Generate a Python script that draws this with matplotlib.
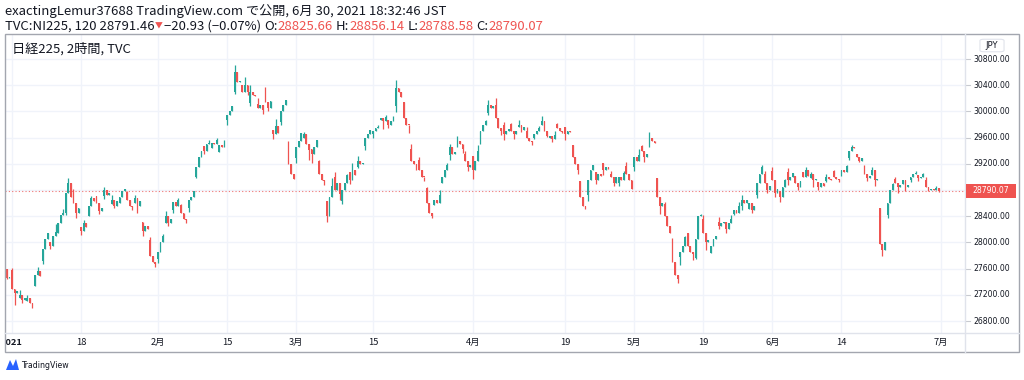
import numpy as np
import matplotlib
matplotlib.use("Agg")
import matplotlib.pyplot as plt
from matplotlib.patches import Rectangle, FancyBboxPatch, Polygon
from matplotlib.lines import Line2D
from matplotlib.transforms import blended_transform_factory, Bbox, TransformedBbox

# ---------------- data (2-hour bars, 3 per trading day) ----------------
dates = (["2020-12-30"] +
         ["2021-01-%02d" % d for d in [4, 5, 6, 7, 8, 12, 13, 14, 15, 18, 19, 20, 21, 22, 25, 26, 27, 28, 29]] +
         ["2021-02-%02d" % d for d in [1, 2, 3, 4, 5, 8, 9, 10, 12, 15, 16, 17, 18, 19, 22, 24, 25, 26]] +
         ["2021-03-%02d" % d for d in [1, 2, 3, 4, 5, 8, 9, 10, 11, 12, 15, 16, 17, 18, 19, 22, 23, 24, 25, 26, 29, 30, 31]] +
         ["2021-04-%02d" % d for d in [1, 2, 5, 6, 7, 8, 9, 12, 13, 14, 15, 16, 19, 20, 21, 22, 23, 26, 27, 28, 30]] +
         ["2021-05-%02d" % d for d in [6, 7, 10, 11, 12, 13, 14, 17, 18, 19, 20, 21, 24, 25, 26, 27, 28, 31]] +
         ["2021-06-%02d" % d for d in [1, 2, 3, 4, 7, 8, 9, 10, 11, 14, 15, 16, 17, 18, 21, 22, 23, 24, 25, 28, 29, 30]])

day_open = [27568,
    27575, 27151, 27102, 27340, 27720, 28004, 28140, 28442, 28777, 28238, 28405, 28711, 28710, 28589, 28601, 28768, 28609, 28306, 28038,
    27748, 28302, 28502, 28564, 28526, 29000, 29479, 29440, 29385, 29863, 30295, 30396, 30127, 30115, 30249, 29714, 29833, 29519,
    29290, 29599, 29433, 29239, 28636, 28998, 28627, 29080, 29156, 29466, 29652, 29868, 29876, 30083, 30144, 29427, 29262, 28838, 28578, 28907, 29327, 29463, 29356,
    29319, 29523, 29969, 30101, 29785, 29809, 29762, 29707, 29589, 29800, 29592, 29812, 29755, 29483, 28936, 28730, 29080, 29208, 29038, 28901, 29165,
    29146, 29472, 29483, 28976, 28588, 27949, 27772, 28142, 27762, 28354, 27844, 28319, 28307, 28428, 28552, 28508, 28720, 29050,
    29087, 28780, 29079, 29015, 29082, 28987, 28918, 28938, 29090, 29043, 29294, 29355, 29151, 29035, 28529, 28421, 28971, 28891, 28949, 29032, 28957, 28818]

bar1_close = [27600,
    27290, 27200, 27150, 27500, 27900, 27950, 28300, 28750, 28600, 28180, 28550, 28600, 28800, 28650, 28700, 28650, 28680, 28180, 27800,
    27850, 28400, 28620, 28450, 28650, 29150, 29400, 29520, 29480, 29950, 30600, 30300, 30300, 30050, 30150, 29650, 30000, 29200,
    29450, 29650, 29350, 29050, 28400, 28800, 28800, 28950, 29250, 29600, 29700, 29900, 29800, 30350, 29900, 29250, 29100, 28600, 28650, 29000, 29450, 29550, 29250,
    29100, 29700, 30100, 29900, 29650, 29700, 29800, 29600, 29650, 29850, 29620, 29750, 29650, 29300, 28700, 28950, 28950, 29100, 29000, 29000, 29050,
    29300, 29400, 29600, 28700, 28400, 27700, 27850, 27950, 28050, 28150, 27950, 28250, 28200, 28500, 28650, 28600, 28900, 28900,
    28950, 28700, 28950, 28900, 29000, 29050, 28850, 29000, 29000, 29100, 29400, 29300, 29050, 29100, 27970, 28600, 28900, 28950, 29000, 28980, 28850, 28800]

bar2_close = [27460,
    27230, 27120, 27080, 27560, 28050, 28100, 28420, 28900, 28450, 28300, 28680, 28480, 28720, 28560, 28780, 28560, 28560, 28250, 27700,
    28000, 28300, 28560, 28350, 28700, 29300, 29500, 29500, 29450, 30000, 30450, 30400, 30250, 30100, 30050, 29780, 30100, 29050,
    29550, 29500, 29450, 28950, 28700, 28900, 28900, 29100, 29200, 29650, 29750, 29850, 29850, 30300, 29800, 29200, 29000, 28450, 28600, 29100, 29350, 29500, 29150,
    29250, 29800, 30050, 29750, 29700, 29650, 29720, 29550, 29700, 29700, 29580, 29700, 29700, 29200, 28550, 29100, 29050, 29150, 28900, 28950, 28950,
    29250, 29300, 29550, 28550, 28250, 27500, 27950, 27850, 28400, 28000, 28050, 28300, 28300, 28450, 28600, 28500, 29050, 28800,
    28750, 28850, 29000, 28850, 29100, 28950, 28900, 28970, 28970, 29080, 29450, 29250, 28980, 28950, 27880, 28800, 28850, 28850, 29050, 29000, 28800, 28826]

day_close = [27470,
    27258, 27158, 27056, 27490, 28139, 28164, 28456, 28698, 28519, 28242, 28633, 28523, 28756, 28631, 28822, 28546, 28635, 28197, 27663,
    28091, 28362, 28646, 28341, 28779, 29388, 29505, 29562, 29520, 30084, 30467, 30292, 30236, 30017, 30156, 29671, 30168, 28966,
    29663, 29408, 29559, 28930, 28864, 28743, 29028, 29036, 29211, 29717, 29766, 29921, 29914, 30216, 29792, 29174, 28995, 28405, 28729, 29176, 29385, 29432, 29178,
    29388, 29854, 30089, 29696, 29730, 29708, 29768, 29538, 29751, 29620, 29642, 29683, 29685, 29100, 28508, 29188, 29020, 29126, 28991, 29053, 28812,
    29331, 29357, 29518, 28608, 28147, 27448, 28084, 27824, 28406, 28044, 28098, 28317, 28364, 28553, 28642, 28549, 29149, 28860,
    28814, 28946, 29058, 28941, 29019, 28963, 28860, 28958, 28948, 29161, 29441, 29291, 29018, 28964, 28010, 28884, 28874, 28875, 29066, 29048, 28812, 28790.07]

day_high = [27620,
    27602, 27279, 27196, 27624, 28139, 28287, 28503, 28979, 28820, 28349, 28712, 28711, 28846, 28722, 28822, 28779, 28720, 28306, 28085,
    28132, 28475, 28678, 28584, 28779, 29388, 29559, 29595, 29569, 30084, 30714, 30522, 30400, 30212, 30373, 29878, 30168, 29543,
    29663, 29686, 29559, 29257, 28981, 29071, 29045, 29211, 29316, 29717, 29796, 29946, 29935, 30485, 30144, 29497, 29298, 28841, 28802, 29208, 29504, 29630, 29388,
    29486, 29876, 30167, 30208, 29838, 29820, 29865, 29760, 29782, 29932, 29698, 29822, 29755, 29483, 28936, 29188, 29080, 29208, 29091, 29095, 29223,
    29423, 29484, 29685, 28976, 28620, 28062, 28099, 28143, 28433, 28414, 28098, 28386, 28425, 28615, 28718, 28586, 29178, 29097,
    29154, 28964, 29142, 29015, 29149, 29072, 28926, 29040, 29100, 29181, 29480, 29355, 29188, 29146, 28529, 28906, 29000, 28957, 29090, 29067, 28993, 28856]

day_low = [27440,
    27042, 27073, 27002, 27340, 27667, 27899, 28140, 28411, 28373, 28111, 28405, 28426, 28664, 28522, 28601, 28493, 28447, 28100, 27629,
    27681, 28244, 28456, 28294, 28469, 28980, 29344, 29440, 29385, 29800, 30273, 30248, 30089, 29956, 30001, 29575, 29798, 28966,
    29206, 29260, 29217, 28877, 28308, 28647, 28592, 28898, 29133, 29406, 29594, 29729, 29742, 29993, 29675, 29098, 28939, 28379, 28578, 28907, 29265, 29368, 29092,
    28965, 29501, 29942, 29642, 29563, 29585, 29690, 29486, 29579, 29611, 29539, 29663, 29563, 29046, 28508, 28636, 28887, 29029, 28856, 28856, 28812,
    29090, 29231, 29452, 28440, 28140, 27385, 27659, 27737, 27753, 27888, 27844, 28212, 28149, 28412, 28499, 28446, 28682, 28752,
    28692, 28613, 28869, 28795, 28993, 28851, 28805, 28924, 28916, 29020, 29251, 29227, 28938, 28858, 27795, 28374, 28748, 28790, 28917, 28941, 28781, 28770]

price_ticks = [26800, 27200, 27600, 28000, 28400, 28800, 29200, 29600, 30000, 30400, 30800]
time_labels = ["2021", "18", "2月", "15", "3月", "15", "4月", "19", "5月", "19", "6月", "14", "7月"]
time_label_dates = ["2021-01-04", "2021-01-18", "2021-02-01", "2021-02-15", "2021-03-01", "2021-03-15",
                    "2021-04-01", "2021-04-19", "2021-05-06", "2021-05-19", "2021-06-01", "2021-06-14", "2021-07-01"]
last_price = 28790.07

# ---------------- build bars ----------------
o_list, c_list, h_list, l_list, x_list = [], [], [], [], []
for i in range(len(dates)):
    opens = [day_open[i], bar1_close[i], bar2_close[i]]
    closes = [bar1_close[i], bar2_close[i], day_close[i]]
    tops = [max(a, b) for a, b in zip(opens, closes)]
    bots = [min(a, b) for a, b in zip(opens, closes)]
    hi = list(tops)
    lo = list(bots)
    k = int(np.argmax(tops))
    hi[k] = max(day_high[i], tops[k])
    k = int(np.argmin(bots))
    lo[k] = min(day_low[i], bots[k])
    for j in range(3):
        x_list.append(3 * (i - 1) + j)
        o_list.append(opens[j]); c_list.append(closes[j]); h_list.append(hi[j]); l_list.append(lo[j])
xs = np.array(x_list, float)
O = np.array(o_list, float); C = np.array(c_list, float)
Hh = np.array(h_list, float); Ll = np.array(l_list, float)

def date_bar(d):
    if d in dates:
        return 3 * (dates.index(d) - 1)
    return 3 * (len(dates) - 1)

# ---------------- figure ----------------
W, Hpx = 1024, 380
RED = '#ef5350'; TEAL = '#26a69a'; TXT = '#131722'; GRID = '#f0f3fa'; SEP = '#e0e3eb'
JP = ['Noto Sans CJK JP', 'DejaVu Sans']

fig = plt.figure(figsize=(W / 100, Hpx / 100), dpi=100)
fig.patch.set_facecolor('white')
renderer = fig.canvas.get_renderer()

def fx(px): return px / W
def fy(py): return 1 - py / Hpx
def tw(t): return t.get_window_extent(renderer=renderer).width
def fit(t, width):
    t.set_fontsize(t.get_fontsize() * width / tw(t))

# chart axes: pixels x 5..965, y 34..333
ax = fig.add_axes([fx(5), fy(333), (965 - 5) / W, (333 - 34) / Hpx])
ax.set_facecolor('white')
for s in ax.spines.values():
    s.set_visible(False)
ax.set_xticks([]); ax.set_yticks([])
ax.set_xlim((5 - 12) / 2.56, (965 - 12) / 2.56)
ax.set_ylim(26616.8, 31181.7)

for p in price_ticks:
    ax.axhline(p, color=GRID, lw=1, zorder=0)
tl_x = [date_bar(d) for d in time_label_dates]
for x in tl_x:
    ax.axvline(x, color=GRID, lw=1, zorder=0)

ax.axhline(last_price, color=RED, lw=0.8, ls=(0, (1, 2)), alpha=0.8, zorder=1)

up = C >= O
cols = np.where(up, TEAL, RED)
ax.vlines(xs, Ll, Hh, colors=cols, lw=0.9, zorder=2)
body_b = np.minimum(O, C)
body_h = np.maximum(np.abs(C - O), 14)
ax.bar(xs, body_h, bottom=body_b, width=0.72, color=cols, linewidth=0, zorder=3)

# price axis labels
bt = blended_transform_factory(ax.transAxes, ax.transData)
xa = lambda px: (px - 5) / 960
sample = ax.text(xa(973), price_ticks[0], "30800.00", fontsize=8, transform=bt)
fit(sample, 37)
pfs = sample.get_fontsize()
sample.remove()
for p in price_ticks:
    ax.text(xa(973), p, "%.2f" % p, fontsize=pfs, color=TXT, transform=bt,
            ha='left', va='center', clip_on=False)
    ax.add_line(Line2D([xa(966), xa(970)], [p, p], transform=bt, color='#c8cad0',
                       lw=0.8, clip_on=False))

# last price tag (drawn on top of everything)
fig.add_artist(Rectangle((fx(966), fy(197.5)), 50 / W, 13.5 / Hpx, transform=fig.transFigure,
                         facecolor=RED, edgecolor='none', zorder=10))
tag = fig.text(fx(991), fy(190.7), "28790.07", fontsize=pfs, color='white',
               ha='center', va='center', zorder=11)

# time labels
bt2 = blended_transform_factory(ax.transData, ax.transAxes)
clipbox = TransformedBbox(Bbox([[fx(6), 0], [fx(964), 1]]), fig.transFigure)
for x, lab in zip(tl_x, time_labels):
    t = ax.text(x, (333 - 342.5) / 299, lab, fontsize=pfs * 1.2, color=TXT, transform=bt2,
                ha='center', va='center', family=JP,
                fontweight='bold' if lab == "2021" else 'normal')
    t.set_clip_box(clipbox)
    t.set_clip_on(True)

# frame and separators
fig.add_artist(Rectangle((fx(5), fy(352)), 1014 / W, 318 / Hpx, transform=fig.transFigure,
                         facecolor='none', edgecolor='#a3a6af', lw=1))
fig.add_artist(Line2D([fx(965), fx(965)], [fy(34), fy(352)], transform=fig.transFigure, color=SEP, lw=1))
fig.add_artist(Line2D([fx(5), fx(1019)], [fy(333), fy(333)], transform=fig.transFigure, color=SEP, lw=1))

# JPY box
fig.add_artist(FancyBboxPatch((fx(982), fy(51)), 20 / W, 11 / Hpx, boxstyle="round,pad=0.002,rounding_size=0.004",
                              transform=fig.transFigure, facecolor='white', edgecolor=SEP, lw=0.8))
fig.text(fx(992), fy(45.5), "JPY", fontsize=6, color=TXT, ha='center', va='center')

# chart title
t = fig.text(fx(12), fy(49), "日経225, 2時間, TVC", fontsize=10, color=TXT, family=JP, va='center')
fit(t, 119)

# header line 1
t1 = fig.text(fx(5), fy(11), "exactingLemur37688 TradingView.com で公開, 6月 30, 2021 18:32:46 JST",
              fontsize=11, color=TXT, family=JP, va='center')
fit(t1, 440)
hfs = t1.get_fontsize()

# header line 2 (segments placed one after another)
probe_a = fig.text(0, 0, "aa", fontsize=hfs, family=JP)
probe_b = fig.text(0, 0, "a a", fontsize=hfs, family=JP)
space_px = tw(probe_b) - tw(probe_a)
probe_a.remove(); probe_b.remove()
segs = [("TVC:NI225, 120 28791.46", TXT, hfs, 0), ("▼", RED, hfs * 0.6, 0.5),
        ("−20.93 (−0.07%)", TXT, hfs, 1), ("O:", TXT, hfs, space_px), ("28825.66", RED, hfs, 0),
        ("H:", TXT, hfs, space_px), ("28856.14", RED, hfs, 0),
        ("L:", TXT, hfs, space_px), ("28788.58", RED, hfs, 0),
        ("C:", TXT, hfs, space_px), ("28790.07", RED, hfs, 0)]
xcur = 5.0
for s, c, f, gap in segs:
    xcur += gap
    tt = fig.text(fx(xcur), fy(26), s, fontsize=f, color=c, family=JP, va='center')
    xcur += tw(tt)

# TradingView logo
fig.add_artist(Polygon([[fx(6), fy(370)], [fx(10), fy(360)], [fx(13), fy(366)], [fx(16), fy(359)],
                        [fx(19), fy(370)]], closed=True, transform=fig.transFigure,
                       facecolor='#2962ff', edgecolor='none'))
lt = fig.text(fx(21), fy(365), "TradingView", fontsize=8, color=TXT, va='center')
fit(lt, 48)

fig.savefig("out.png", dpi=100, facecolor='white')
